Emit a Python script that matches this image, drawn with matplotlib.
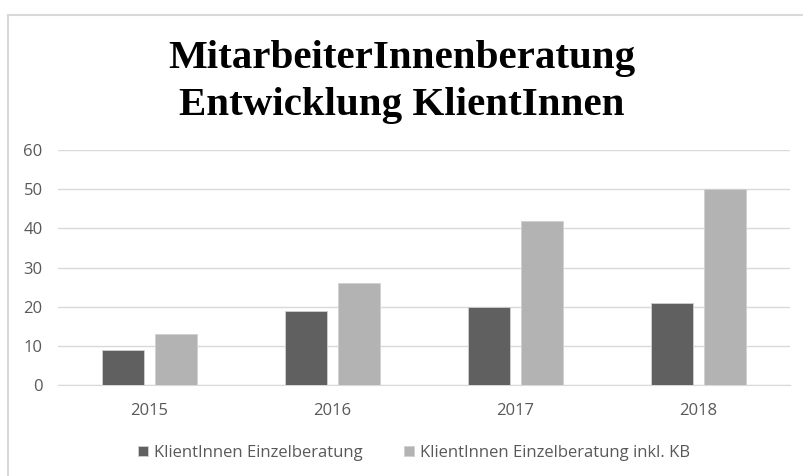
import numpy as np
import matplotlib.pyplot as plt
from matplotlib.patches import Rectangle
from matplotlib import font_manager

years = ['2015', '2016', '2017', '2018']
einzel = [9, 19, 20, 21]
einzel_kb = [13, 26, 42, 50]
labels = ['KlientInnen Einzelberatung', 'KlientInnen Einzelberatung inkl. KB']
title1 = 'MitarbeiterInnenberatung'
title2 = 'Entwicklung KlientInnen'

names = {f.name for f in font_manager.fontManager.ttflist}
sans = [n for n in ['Open Sans', 'DejaVu Sans'] if n in names]
serif = [n for n in ['Liberation Serif', 'DejaVu Serif'] if n in names]
plt.rcParams['font.family'] = sans

fig = plt.figure(figsize=(8.04, 4.76), dpi=100)
W, H = 804, 476
ax = fig.add_axes([58 / W, 1 - 385 / H, (790 - 58) / W, (385 - 150) / H])

# chart frame (runs off the right and bottom edge)
fig.patches.append(Rectangle((8 / W, -0.1), 1.2, 1 - 15 / H + 0.1, transform=fig.transFigure,
                             fill=False, edgecolor='#d9d9d9', linewidth=1.5))

x = np.arange(len(years))
w = 0.225
gap = 0.065
ax.bar(x - (w + gap) / 2, einzel, w, color='#606060', edgecolor='#d0d0d0', linewidth=0.6, label=labels[0], zorder=3)
ax.bar(x + (w + gap) / 2, einzel_kb, w, color='#b3b3b3', edgecolor='#d0d0d0', linewidth=0.6, label=labels[1], zorder=3)

ax.set_xlim(-0.5, 3.5)
ax.set_ylim(0, 60)
ax.set_yticks(range(0, 61, 10))
ax.set_xticks(x)
ax.set_xticklabels(years)
ax.grid(axis='y', color='#d9d9d9', linewidth=1, zorder=0)
for s in ['top', 'right', 'left']:
    ax.spines[s].set_visible(False)
ax.spines['bottom'].set_color('#d9d9d9')
ax.tick_params(length=0, labelsize=12, colors='#595959')
ax.tick_params(axis='x', pad=13)
ax.tick_params(axis='y', pad=11)

fig.text(0.5, 1 - 68 / H, title1, ha='center', va='baseline',
         fontsize=29.5, fontweight='bold', family=serif, color='black')
fig.text(0.5, 1 - 115 / H, title2, ha='center', va='baseline',
         fontsize=29.5, fontweight='bold', family=serif, color='black')

fig.legend(loc='center', bbox_to_anchor=(414 / W, 1 - 453 / H), ncol=2, frameon=False, fontsize=12,
           handlelength=0.6, handleheight=0.6, handletextpad=0.35, columnspacing=2.5, labelcolor='#595959')

fig.savefig('out.png', dpi=100)
